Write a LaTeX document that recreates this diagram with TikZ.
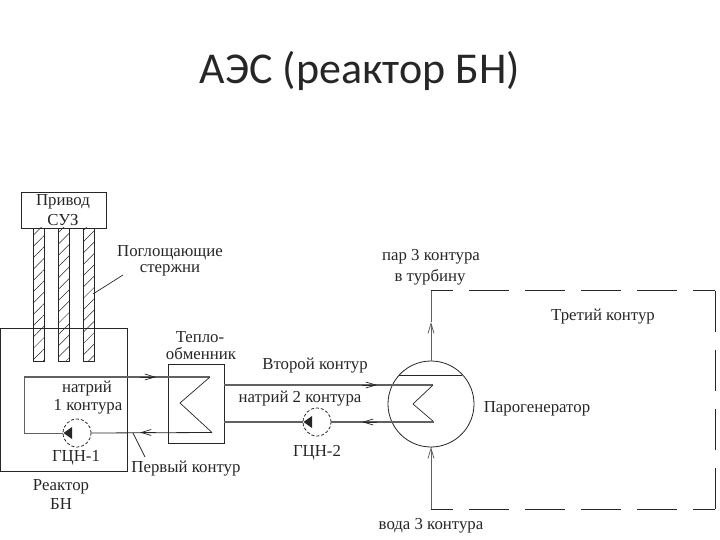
\documentclass[tikz,border=0pt]{standalone}
\usepackage{fontspec}
\setmainfont{Liberation Serif}
\newfontfamily\titlefont{Carlito}
\usetikzlibrary{arrows.meta,patterns.meta}
\definecolor{ink}{gray}{0.15}
\definecolor{pipe}{gray}{0.38}
\tikzset{
  lbl/.style={inner sep=0pt,yshift=-1.8pt,font=\fontsize{16.8}{18}\selectfont,text=ink},
  boxn/.style={draw=ink,line width=.8pt,inner sep=0pt},
  rod/.style={draw=ink,line width=.7pt,inner sep=0pt,minimum width=11pt,minimum height=133pt,pattern={Lines[angle=45,distance=8pt,line width=.5pt]},pattern color=ink},
  pumpn/.style={circle,draw=ink,line width=.8pt,densely dashed,minimum size=28pt,inner sep=0pt},
  sg/.style={circle,draw=ink,line width=.8pt,minimum size=86pt,inner sep=0pt},
  pipeline/.style={draw=pipe,line width=1.2pt},
  thin line/.style={draw=ink,line width=.7pt},
  loopr/.style={draw=ink,line width=.8pt},
  grayline/.style={draw=pipe,line width=.8pt},
  flow/.style={draw=ink,line width=.7pt,-{Straight Barb[length=10pt,width=6pt]}},
  dashh/.style={draw=ink,line width=.8pt,dash pattern=on 40pt off 16pt,dash phase=18pt},
  dashv/.style={draw=ink,line width=.8pt,dash pattern=on 41pt off 18pt},
  pumphead/.style={fill=ink,draw=none}
}
\begin{document}
\begin{tikzpicture}[x=1pt,y=-1pt]
\useasboundingbox (0,0) rectangle (720,540);
\node[font=\titlefont\fontsize{44}{48}\selectfont,text=black!85,inner sep=0pt] (title) at (360,71) {АЭС (реактор БН)};
% rods
\node[rod] (r1) at (38.5,294.5) {};
\node[rod] (r2) at (63.5,294.5) {};
\node[rod] (r3) at (88.5,294.5) {};
% boxes
\node[boxn,minimum width=85pt,minimum height=36pt] (drive) at (63.5,210) {};
\node[lbl] (t1) at (63,200) {Привод};
\node[lbl] (t2) at (63,218) {СУЗ};
\node[boxn,minimum width=127pt,minimum height=143pt] (reactor) at (63.5,399.5) {};
\node[boxn,minimum width=56pt,minimum height=79pt] (hx) at (196,403.5) {};
% SG
\node[sg] (sgn) at (431,404) {};
\coordinate (chl) at (399,375);
\coordinate (chr) at (462,375);
\draw[thin line] (chl) -- (chr);
% pumps
\node[pumpn] (p1) at (77,433) {};
\node[pumpn] (p2) at (317,422) {};
\fill[pumphead] (63.5,433) -- (72,427) -- (72,439) -- cycle;
\fill[pumphead] (303.5,422) -- (312,416) -- (312,428) -- cycle;
% primary loop
\coordinate (a0) at (24,377);
\coordinate (a1) at (210,377);
\coordinate (a2) at (180,403);
\coordinate (a3) at (212,432.5);
\coordinate (a4) at (24,433);
\draw[grayline] (p1.west) -- (a4) -- (a0);
\draw[pipeline] (a0) -- (a1);
\draw[thin line] (a1) -- (a2) -- (a3);
\draw[loopr] (a3) -- (p1.east);
% secondary loop
\coordinate (b1) at (433,385);
\coordinate (b2) at (413,404);
\coordinate (b3) at (434,422);
\coordinate (b0) at (224,385);
\coordinate (b4) at (224,422);
\draw[pipeline] (b0) -- (b1);
\draw[thin line] (b1) -- (b2) -- (b3);
\draw[pipeline] (b3) -- (p2.east);
\draw[pipeline] (p2.west) -- (b4);
% flow arrows
\coordinate (f1a) at (140,377); \coordinate (f1b) at (156,377);
\coordinate (f2a) at (156,432.5); \coordinate (f2b) at (140,432.5);
\coordinate (f3a) at (362,385); \coordinate (f3b) at (377,385);
\coordinate (f4a) at (377,422); \coordinate (f4b) at (362,422);
\draw[flow] (f1a) -- (f1b);
\draw[flow] (f2a) -- (f2b);
\draw[flow] (f3a) -- (f3b);
\draw[flow] (f4a) -- (f4b);
% third loop
\coordinate (c1) at (431,290.5);
\coordinate (c2) at (715,290.5);
\coordinate (c3) at (715,509);
\coordinate (c4) at (431,509);
\coordinate (m1) at (431,322);
\coordinate (m2) at (431,447);
\draw[grayline,-{Straight Barb[length=10pt,width=6pt]}] (sgn.north) -- (m1);
\draw[grayline] (m1) -- (c1);
\draw[grayline,-{Straight Barb[length=10pt,width=6pt]}] (c4) -- (m2);
\draw[grayline] (m2) -- (sgn.south);
\draw[dashh] (c1) -- (c2);
\draw[dashv] (c2) -- (c3);
\draw[dashh] (c4) -- (c3);
% leaders
\coordinate (l1a) at (123,275); \coordinate (l1b) at (93,294);
\draw[thin line] (l1a) -- (l1b);
\coordinate (l2a) at (133,433); \coordinate (l2b) at (145,457);
\draw[thin line] (l2a) -- (l2b);
% labels
\node[lbl] (t3) at (170,250.5) {Поглощающие};
\node[lbl] (t4) at (170,268.5) {стержни};
\node[lbl] (t5) at (200,335) {Тепло-};
\node[lbl] (t6) at (201,352) {обменник};
\node[lbl] (t7) at (87,387) {натрий};
\node[lbl] (t8) at (88,405) {1 контура};
\node[lbl] (t9) at (76,456) {ГЦН-1};
\node[lbl] (t10) at (186,467) {Первый контур};
\node[lbl] (t11) at (61,485) {Реактор};
\node[lbl] (t12) at (61,502) {БН};
\node[lbl] (t13) at (315,364) {Второй контур};
\node[lbl] (t14) at (300,397) {натрий 2 контура};
\node[lbl] (t15) at (317,451) {ГЦН-2};
\node[lbl] (t16) at (431,524) {вода 3 контура};
\node[lbl] (t17) at (431,255) {пар 3 контура};
\node[lbl] (t18) at (430,275) {в турбину};
\node[lbl] (t19) at (603,315) {Третий контур};
\node[lbl] (t20) at (537,407) {Парогенератор};
\end{tikzpicture}
\end{document}
